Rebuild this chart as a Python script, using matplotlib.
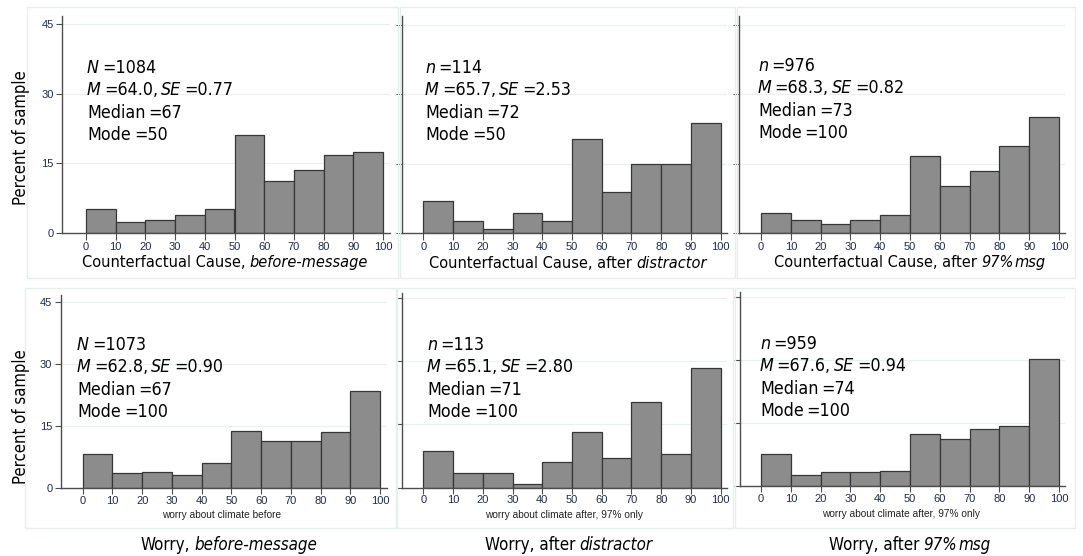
import numpy as np
import matplotlib
matplotlib.use("Agg")
import matplotlib.pyplot as plt
from matplotlib import font_manager as fm
from matplotlib.patches import Rectangle

W, H = 1083, 556

# ---------- data (percent of sample per 10-pt bin) ----------
bin_edges = list(range(0, 101, 10))
y_ticks = [0, 15, 30, 45]

cause_before = [5.2, 2.4, 2.8, 3.8, 5.2, 21.1, 11.1, 13.6, 16.8, 17.4]
cause_distractor = [7.0, 2.6, 0.9, 4.4, 2.6, 20.2, 8.8, 14.9, 14.9, 23.7]
cause_97 = [4.3, 2.8, 1.9, 2.9, 3.8, 16.6, 10.2, 13.4, 18.7, 25.0]
worry_before = [8.4, 3.6, 3.9, 3.3, 6.1, 13.8, 11.5, 11.4, 13.7, 23.6]
worry_distractor = [8.8, 3.5, 3.5, 0.9, 6.2, 13.3, 7.1, 20.4, 8.0, 28.3]
worry_97 = [7.8, 2.8, 3.3, 3.4, 3.6, 12.4, 11.2, 13.7, 14.4, 30.2]

# stats lines: (count label, count, mean, se, median, mode)
stats = [
    ("N", "1084", "64.0", "0.77", "67", "50"),
    ("n", "114", "65.7", "2.53", "72", "50"),
    ("n", "976", "68.3", "0.82", "73", "100"),
    ("N", "1073", "62.8", "0.90", "67", "100"),
    ("n", "113", "65.1", "2.80", "71", "100"),
    ("n", "959", "67.6", "0.94", "74", "100"),
]

captions = [
    [("Counterfactual Cause,", "normal"), ("before-message", "italic")],
    [("Counterfactual Cause, after", "normal"), ("distractor", "italic")],
    [("Counterfactual Cause, after", "normal"), ("97%", "italic"), ("msg", "italic")],
    [("Worry,", "normal"), ("before-message", "italic")],
    [("Worry, after", "normal"), ("distractor", "italic")],
    [("Worry, after", "normal"), ("97%", "italic"), ("msg", "italic")],
]
small_xlabels = [None, None, None,
                 "worry about climate before",
                 "worry about climate after, 97% only",
                 "worry about climate after, 97% only"]

series = [cause_before, cause_distractor, cause_97,
          worry_before, worry_distractor, worry_97]

# ---------- pixel geometry of each panel (layout only) ----------
# spine_x, axis_right, px of x=0, px of x=100, px of y=0, px of y=45, spine top
geom = [
    (62, 390, 86, 383, 233, 24, 16),
    (401.7, 727, 423.3, 720.7, 233, 24.5, 16),
    (739.3, 1065, 761, 1059, 233, 24.5, 16),
    (60.7, 386.7, 82.7, 380, 488.3, 302, 295),
    (401.7, 727, 423.3, 720.7, 487.7, 297.7, 293),
    (740, 1065, 761, 1059, 486.3, 297.3, 292),
]
# stats text left x and first line y
stat_pos = [(87, 68), (425, 68), (758, 66), (77, 345), (427, 345), (760, 344)]
caption_pos = [(225, 263), (568, 264), (910, 263), (229, 545), (569, 545), (910, 545)]
caption_size = [11.7, 11.7, 11.7, 12.2, 12.2, 12.2]
small_pos = [None, None, None, (222, 515), (564, 515), (901, 514)]
boxes = [(27, 7, 398, 278), (400, 7, 735, 278), (737, 7, 1075, 278),
         (25, 288, 396, 528), (397, 288, 733, 528), (735, 288, 1075, 528)]

# ---------- fonts ----------
_entries = fm.fontManager.ttflist
_names = {f.name for f in _entries}
if any(f.name == "DejaVu Sans" and f.stretch == "condensed" for f in _entries):
    BIG = dict(family="DejaVu Sans", stretch="condensed")
elif "Liberation Sans Narrow" in _names:
    BIG = dict(family="Liberation Sans Narrow")
else:
    BIG = dict(family="Liberation Sans")
SMALL = dict(family="Liberation Sans")

BAR_FACE = "#8c8c8c"
BAR_EDGE = "#363636"
AXIS_COL = "#4d4d4d"
TICK_TXT = "#1f2b48"
GRID_COL = "#e8f0f0"
BOX_COL = "#e6eeee"

fig = plt.figure(figsize=(W / 100, H / 100), dpi=100)
renderer = fig.canvas.get_renderer()


def fy(py):
    return 1 - py / H


def rich_text(x_px, y_px, parts, size, center=False, gap=4):
    """Draw text segments of mixed style side by side."""
    objs = []
    for s, style in parts:
        t = fig.text(0, fy(y_px), s, fontsize=size, style=style, va="center",
                     ha="left", color="black", **BIG)
        objs.append(t)
    widths = [t.get_window_extent(renderer).width for t in objs]
    gaps = gap if isinstance(gap, (list, tuple)) else [gap] * (len(objs) - 1)
    total = sum(widths) + sum(gaps)
    x = x_px - total / 2 if center else x_px
    for k, (t, w) in enumerate(zip(objs, widths)):
        t.set_x(x / W)
        x += w + (gaps[k] if k < len(gaps) else 0)


for i, vals in enumerate(series):
    sx, rx, x0, x100, y0, y45, top = geom[i]
    ax = fig.add_axes([sx / W, 1 - y0 / H, (rx - sx) / W, (y0 - top) / H])
    s = (x100 - x0) / 100.0
    sy = (y0 - y45) / 45.0
    ax.set_xlim((sx - x0) / s, (rx - x0) / s)
    ax.set_ylim(0, (y0 - top) / sy)
    ax.set_facecolor("none")

    ax.bar(bin_edges[:-1], vals, width=10, align="edge", color=BAR_FACE,
           edgecolor=BAR_EDGE, linewidth=0.9, zorder=2)

    ax.set_axisbelow(True)
    for yv in y_ticks[1:]:
        ax.axhline(yv, color=GRID_COL, linewidth=0.9, zorder=0)

    for side in ("top", "right"):
        ax.spines[side].set_visible(False)
    for side in ("left", "bottom"):
        ax.spines[side].set_color(AXIS_COL)
        ax.spines[side].set_linewidth(1.0)

    ax.set_xticks(bin_edges)
    ax.set_yticks(y_ticks)
    xlen = 5 if i < 3 else 4
    ax.tick_params(axis="x", direction="out", length=xlen, width=0.8,
                   color=AXIS_COL, labelsize=8, labelcolor=TICK_TXT, pad=1.5)
    ax.tick_params(axis="y", direction="out", length=4, width=0.8,
                   color=AXIS_COL, labelsize=8, labelcolor=TICK_TXT, pad=2)
    for lab in ax.get_xticklabels() + ax.get_yticklabels():
        lab.set_family(SMALL["family"])
    if i % 3 != 0:
        ax.set_yticklabels([])

    # stats block
    cl, cnt, m, se, med, mode = stats[i]
    lx, ly = stat_pos[i]
    step = 22.3
    fs = 12.8
    rich_text(lx, ly, [(cl, "italic"), ("=" + cnt, "normal")], fs, gap=3)
    rich_text(lx, ly + step, [("M", "italic"), ("=" + m + ",", "normal"),
                              ("SE", "italic"), ("=" + se, "normal")], fs, gap=3)
    rich_text(lx, ly + 2 * step, [("Median", "normal"), ("=" + med, "normal")], fs, gap=3)
    rich_text(lx, ly + 3 * step, [("Mode", "normal"), ("=" + mode, "normal")], fs, gap=3)

    cx, cy = caption_pos[i]
    n_parts = len(captions[i])
    gaps = [4] + [1] * (n_parts - 2)
    rich_text(cx, cy, captions[i], caption_size[i], center=True, gap=gaps)

    if small_xlabels[i]:
        px, py = small_pos[i]
        fig.text(px / W, fy(py), small_xlabels[i], fontsize=7.3, ha="center",
                 va="center", color="#222222", family=SMALL["family"])

    bx0, by0, bx1, by1 = boxes[i]
    fig.patches.append(Rectangle((bx0 / W, fy(by1)), (bx1 - bx0) / W,
                                 (by1 - by0) / H, transform=fig.transFigure,
                                 fill=False, edgecolor=BOX_COL, linewidth=1.0,
                                 zorder=0))

for yc in (138, 417):
    fig.text(21 / W, fy(yc), "Percent of sample", rotation=90, fontsize=12,
             ha="center", va="center", **BIG)

fig.savefig("out.png", dpi=100, facecolor="white")
